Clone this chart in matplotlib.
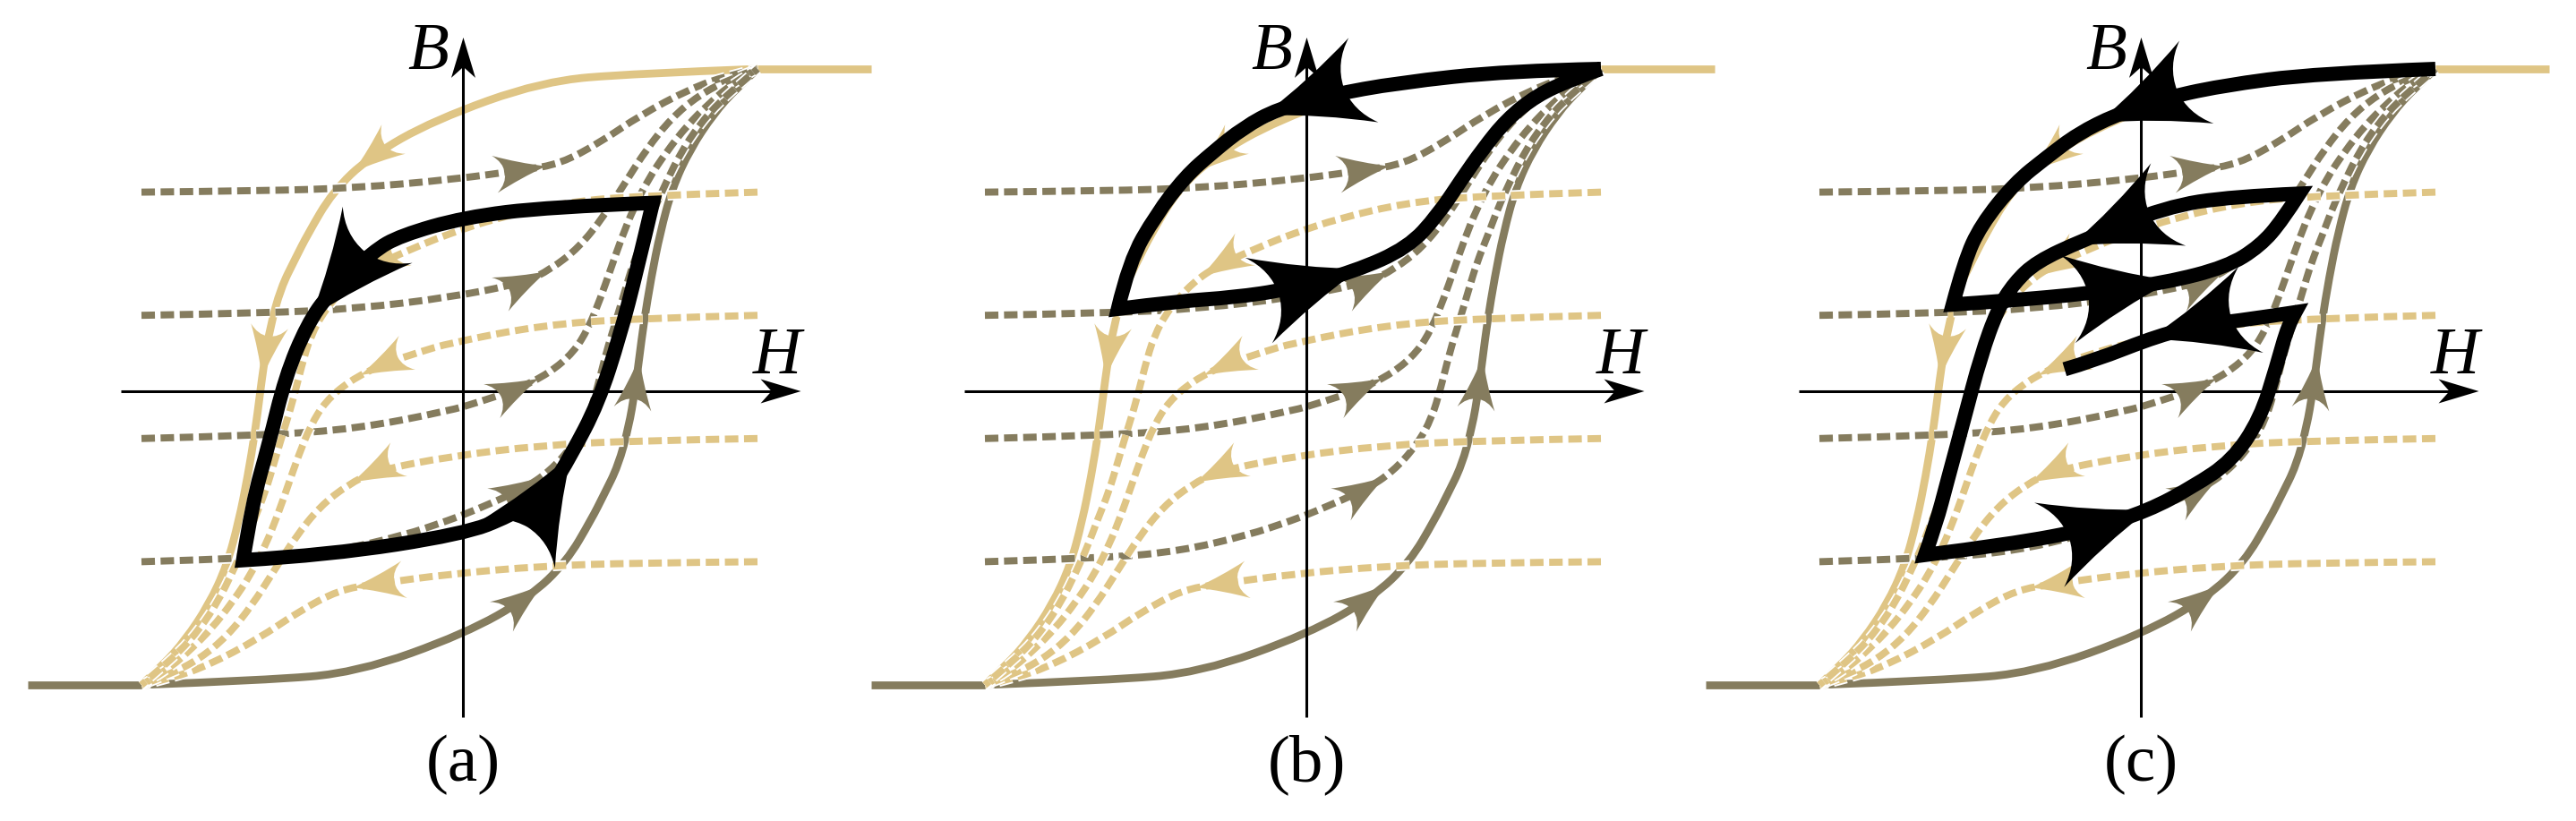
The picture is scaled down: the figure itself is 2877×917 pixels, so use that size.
import numpy as np
import matplotlib
matplotlib.use("Agg")
import matplotlib.pyplot as plt
import matplotlib.patheffects as pe
from matplotlib.path import Path
from matplotlib.patches import PathPatch
from matplotlib.transforms import Affine2D

TAN = "#dfc585"
OLIVE = "#857c5e"

# loop is normalised: saturation corners at (+-1, +-1)
# ascending major branch (olive); the descending one is its point mirror
asc_H = [-1.0, -0.6, -0.3, 0.05, 0.26, 0.38, 0.461, 0.5, 0.548, 0.582, 0.602,
         0.616, 0.631, 0.655, 0.684, 0.723, 0.781, 0.859, 0.93, 1.0]
asc_B = [-1.0, -0.985, -0.96, -0.834, -0.715, -0.6, -0.462, -0.385, -0.288, -0.162, -0.046,
         0.061, 0.177, 0.323, 0.468, 0.613, 0.739, 0.856, 0.935, 1.0]
sat_ext = 0.37  # flat saturation tails

# olive dashed reversal curves entered from the left (tan ones are the mirror)
c1_H = [-1.0, -0.6, -0.3, 0.0, 0.24, 0.36, 0.49, 0.62, 0.78, 0.9, 1.0]
c1_B = [0.6, 0.604, 0.614, 0.64, 0.672, 0.692, 0.762, 0.85, 0.935, 0.978, 1.0]
c2_H = [-1.0, -0.6, -0.3, 0.0, 0.24, 0.33, 0.42, 0.5, 0.57, 0.64, 0.72, 0.81, 0.91, 1.0]
c2_B = [0.2, 0.207, 0.222, 0.258, 0.305, 0.35, 0.42, 0.52, 0.63, 0.74, 0.84, 0.915, 0.967, 1.0]
c3_H = [-1.0, -0.6, -0.3, 0.0, 0.1, 0.22, 0.325, 0.403, 0.451, 0.49, 0.524, 0.558, 0.597,
        0.646, 0.704, 0.772, 0.84, 0.917, 1.0]
c3_B = [-0.2, -0.19, -0.168, -0.11, -0.08, -0.04, 0.013, 0.08, 0.158, 0.255, 0.352, 0.449, 0.546,
        0.643, 0.73, 0.817, 0.885, 0.953, 1.0]
c4_H = [-1.0, -0.6, -0.366, -0.15, 0.0, 0.082, 0.238, 0.325, 0.403, 0.451, 0.48, 0.509, 0.539,
        0.568, 0.597, 0.636, 0.665, 0.704, 0.752, 0.81, 0.878, 0.956, 1.0]
c4_B = [-0.6, -0.588, -0.565, -0.515, -0.465, -0.433, -0.365, -0.307, -0.22, -0.133, -0.036, 0.08, 0.177,
        0.274, 0.371, 0.468, 0.546, 0.633, 0.73, 0.817, 0.894, 0.962, 1.0]
dash_arrow_H = [0.28, 0.29, 0.26, 0.27]
dash_arrow_B = [0.675, 0.32, -0.025, -0.345]
asc_arrows = [(0.28, -0.70), (0.61, 0.03)]
desc_arrows = [(-0.29, 0.69), (-0.595, 0.03)]

# black paths, panel (a)
a_up_H = [-0.67, -0.39, 0.046, 0.197, 0.322, 0.394, 0.483, 0.554, 0.607, 0.66]
a_up_B = [-0.595, -0.578, -0.51, -0.451, -0.374, -0.255, -0.085, 0.136, 0.34, 0.565]
a_dn_H = [0.66, 0.322, 0.046, -0.159, -0.248, -0.391, -0.462, -0.533, -0.587, -0.64, -0.67]
a_dn_B = [0.565, 0.552, 0.518, 0.459, 0.408, 0.272, 0.17, 0.0, -0.221, -0.408, -0.595]
# panel (b)
b_top_H = [1.0, 0.7, 0.34, 0.12, -0.05, -0.16, -0.26, -0.35, -0.444, -0.532, -0.568]
b_top_B = [1.0, 0.994, 0.955, 0.915, 0.87, 0.81, 0.73, 0.65, 0.527, 0.374, 0.221]
b_low_H = [-0.568, -0.372, -0.194, -0.015, 0.199, 0.374, 0.471, 0.548, 0.616, 0.694, 0.791, 0.907, 1.0]
b_low_B = [0.221, 0.246, 0.258, 0.284, 0.342, 0.42, 0.526, 0.642, 0.739, 0.836, 0.914, 0.967, 1.0]
# panel (c)
c_p1_H = [1.0, 0.613, 0.3, 0.1, -0.04, -0.16, -0.26, -0.367, -0.476, -0.53, -0.567]
c_p1_B = [1.0, 0.986, 0.945, 0.9, 0.85, 0.79, 0.715, 0.629, 0.493, 0.374, 0.235]
c_p2_H = [-0.567, -0.404, -0.113, 0.123, 0.322, 0.431, 0.504, 0.558]
c_p2_B = [0.235, 0.246, 0.272, 0.306, 0.357, 0.425, 0.51, 0.595]
c_p3_H = [0.558, 0.34, 0.123, -0.149, -0.295, -0.367, -0.421, -0.476, -0.53, -0.585, -0.621, -0.657]
c_p3_B = [0.595, 0.586, 0.552, 0.442, 0.374, 0.306, 0.221, 0.068, -0.136, -0.34, -0.476, -0.578]
c_p4_H = [-0.657, -0.385, -0.113, 0.068, 0.212, 0.34, 0.431, 0.484, 0.522, 0.545]
c_p4_B = [-0.578, -0.544, -0.493, -0.434, -0.357, -0.272, -0.136, 0.034, 0.17, 0.21]
c_p5_H = [0.545, 0.395, 0.25, 0.104, -0.113, -0.204]
c_p5_B = [0.21, 0.187, 0.17, 0.136, 0.051, 0.025]

panel_labels = ["(a)", "(b)", "(c)"]

# layout (pixels at dpi 100)
W_PX, H_PX = 2877, 917
S = 344.0                      # pixels per unit
centers = [502, 1444, 2376]    # loop centre of each panel
cy = 421                       # loop centre from top
H0, B0 = 0.045, -0.0465        # where the axes cross
B_rng = (-1.105, 1.102)
H_rng = (-1.068, 1.141)

LW_C, LW_D, LW_K, LW_AX = 6.3, 5.7, 11.5, 2.2
BIG = (118, 100)  # black arrow head length, width (px)
SMALL = (58, 42)  # coloured arrow heads


def P(h, b):
    return np.column_stack([h, b]).astype(float)


def spline(pts):
    n = len(pts) - 1
    if n == 1:
        return [pts[1]], [Path.LINETO]
    verts, codes = [], []
    for i in range(1, n):
        end = pts[n] if i == n - 1 else (pts[i] + pts[i + 1]) / 2
        verts += [pts[i], end]
        codes += [Path.CURVE3, Path.CURVE3]
    return verts, codes


def build(segs, closed=False):
    verts, codes = [segs[0][0]], [Path.MOVETO]
    for s in segs:
        v, c = spline(s)
        verts += v
        codes += c
    if closed:
        verts.append(segs[0][0])
        codes.append(Path.CLOSEPOLY)
    return Path(verts, codes)


def sample(pts, k=40):
    n = len(pts) - 1
    out = [pts[0]]
    start = pts[0]
    t = np.linspace(0, 1, k)[1:, None]
    for i in range(1, n):
        end = pts[n] if i == n - 1 else (pts[i] + pts[i + 1]) / 2
        out.extend((1 - t) ** 2 * start + 2 * (1 - t) * t * pts[i] + t ** 2 * end)
        start = end
    return np.array(out)


def head_path(notch, side_bow, back_bow):
    tip = np.array([0.5, 0.0])
    up = np.array([-0.5, 0.5])
    nt = np.array([-0.5 + notch, 0.0])
    d = up - tip
    nrm = np.array([d[1], -d[0]]) / np.hypot(*d)
    if nrm[1] > 0:
        nrm = -nrm
    c1 = (tip + up) / 2 + side_bow * nrm
    d2 = nt - up
    n2 = np.array([-d2[1], d2[0]]) / np.hypot(*d2)
    if n2[0] < 0:
        n2 = -n2
    c2 = (up + nt) / 2 + back_bow * n2
    fl = np.array([1, -1])
    verts = [tip, c1, up, c2, nt, c2 * fl, up * fl, c1 * fl, tip, tip]
    codes = [Path.MOVETO] + [Path.CURVE3] * 8 + [Path.CLOSEPOLY]
    return Path(verts, codes)


HEAD = head_path(0.2, 0.05, 0.1)
AXHEAD = head_path(0.27, 0.0, 0.0)


def put_head(ax, xy, ang, size, color, z, path=HEAD, anchor=0.0):
    L, W = size
    x, y = ax.transData.transform(xy)
    px = ax.figure.dpi / 100
    tr = (Affine2D().translate(-anchor, 0).scale(L * px, W * px)
          .rotate(ang).translate(x, y))
    ax.add_artist(PathPatch(path, transform=tr, fc=color, ec="none", lw=0, zorder=z))


def head_on(ax, pts, near, size, color, z):
    # the front part of the head sits on the curve, along its tangent
    s = sample(pts)
    i = int(np.argmin(np.hypot(s[:, 0] - near[0], s[:, 1] - near[1])))
    i = min(max(i, 2), len(s) - 3)
    d = ax.transData.transform(s[i + 2]) - ax.transData.transform(s[i - 2])
    put_head(ax, s[i], np.arctan2(d[1], d[0]), size, color, z, anchor=0.3)


def curve(ax, pts, color, lw, z, dashed=False):
    kw = dict(fill=False, ec=color, lw=lw, zorder=z, capstyle="butt")
    if dashed:
        kw["linestyle"] = (0, (1.9, 0.8))
        kw["path_effects"] = [pe.Stroke(linewidth=lw + 2.6, foreground="white"), pe.Normal()]
    ax.add_patch(PathPatch(build([pts]), **kw))


def background(ax):
    up = P(asc_H, asc_B)
    down = -up
    ax.plot([-1 - sat_ext, -1], [-1, -1], color=OLIVE, lw=LW_C, solid_capstyle="butt", zorder=2)
    ax.plot([1, 1 + sat_ext], [1, 1], color=TAN, lw=LW_C, solid_capstyle="butt", zorder=2)
    curve(ax, up, OLIVE, LW_C, 2)
    curve(ax, down, TAN, LW_C, 2)
    for nb in asc_arrows:
        head_on(ax, up, nb, SMALL, OLIVE, 4)
    for nb in desc_arrows:
        head_on(ax, down, nb, SMALL, TAN, 4)
    forcs = [P(c1_H, c1_B), P(c2_H, c2_B), P(c3_H, c3_B), P(c4_H, c4_B)]
    for k, c in enumerate(forcs):
        curve(ax, c, OLIVE, LW_D, 3, dashed=True)
        head_on(ax, c, (dash_arrow_H[k], dash_arrow_B[k]), SMALL, OLIVE, 4)
    for k, c in enumerate(forcs):
        curve(ax, -c, TAN, LW_D, 3.1, dashed=True)
        head_on(ax, -c, (-dash_arrow_H[k], -dash_arrow_B[k]), SMALL, TAN, 4)

    # axes with arrow heads
    L = 45
    ax.plot([H0, H0], [B_rng[0], B_rng[1] - 30 / S], color="black", lw=LW_AX, zorder=3.5,
            solid_capstyle="butt")
    ax.plot([H_rng[0], H_rng[1] - 30 / S], [B0, B0], color="black", lw=LW_AX, zorder=3.5,
            solid_capstyle="butt")
    put_head(ax, (H0, B_rng[1] - 0.5 * L / S), np.pi / 2, (L, 27), "black", 3.6, AXHEAD)
    put_head(ax, (H_rng[1] - 0.5 * L / S, B0), 0.0, (L, 27), "black", 3.6, AXHEAD)
    tf = dict(family="Liberation Serif", fontsize=54, zorder=8)
    ax.text(H0 - 0.115, 1.0, "B", style="italic", ha="center", va="baseline", **tf)
    ax.text(1.063, 0.012, "H", style="italic", ha="center", va="baseline", **tf)


def black(ax, segs, closed=False):
    ax.add_patch(PathPatch(build(segs, closed), fill=False, ec="black", lw=LW_K, zorder=6,
                           capstyle="butt", joinstyle="miter"))


fig = plt.figure(figsize=(W_PX / 100, H_PX / 100), dpi=100)
axes = []
for k, c in enumerate(centers):
    ax = fig.add_axes([(c - 502) / W_PX, 0, 1000 / W_PX, 1])
    ax.set_xlim(-502 / S, 498 / S)
    ax.set_ylim((cy - H_PX) / S, cy / S)
    ax.set_axis_off()
    ax.patch.set_visible(False)
    axes.append(ax)

for k, ax in enumerate(axes):
    background(ax)
    ax.text(H0, -1.311, panel_labels[k], family="Liberation Serif", fontsize=54,
            ha="center", va="baseline", zorder=8)

# (a) minor loop
ax = axes[0]
up, dn = P(a_up_H, a_up_B), P(a_dn_H, a_dn_B)
black(ax, [up, dn], closed=True)
head_on(ax, up, (0.36, -0.31), BIG, "black", 7)
head_on(ax, dn, (-0.41, 0.25), BIG, "black", 7)

# (b) reversal from saturation
ax = axes[1]
top, low = P(b_top_H, b_top_B), P(b_low_H, b_low_B)
black(ax, [top, low])
head_on(ax, top, (-0.03, 0.87), BIG, "black", 7)
head_on(ax, low, (0.15, 0.33), BIG, "black", 7)

# (c) nested reversals
ax = axes[2]
segs = [P(c_p1_H, c_p1_B), P(c_p2_H, c_p2_B), P(c_p3_H, c_p3_B), P(c_p4_H, c_p4_B), P(c_p5_H, c_p5_B)]
black(ax, segs)
for s, nb in zip(segs, [(-0.03, 0.85), (0.08, 0.29), (-0.12, 0.46), (0.01, -0.465), (0.14, 0.135)]):
    head_on(ax, s, nb, BIG, "black", 7)

fig.savefig("out.png", dpi=100)
